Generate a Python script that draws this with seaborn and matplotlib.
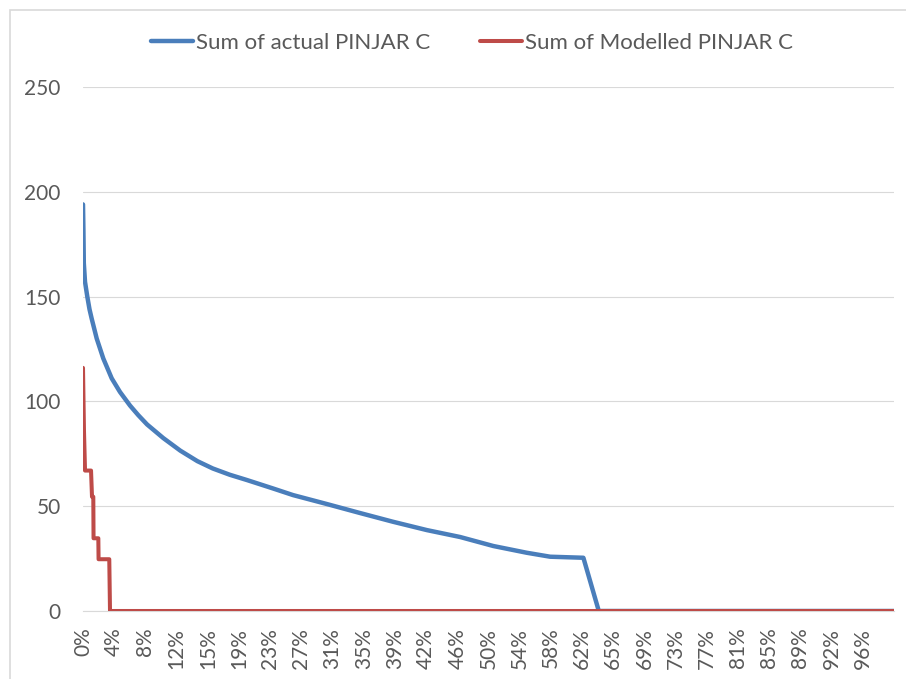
import numpy as np
import pandas as pd
import matplotlib
matplotlib.use("Agg")
import matplotlib.pyplot as plt
from matplotlib.patches import Rectangle
import seaborn as sns

# duration curve breakpoints: x = share of time (%), y = value
actual_pct = [0.0, 0.05, 0.1, 0.25, 0.53, 0.8, 1.07, 1.69, 2.5, 3.54, 4.56, 5.8, 6.8, 7.9,
              9.9, 12.0, 14.1, 16.0, 18.1, 20.2, 23.4, 25.9, 30.1, 34.2, 38.2, 42.4,
              46.5, 50.6, 54.7, 57.6, 61.7, 63.6, 100.0]
actual_val = [194, 182, 166, 157, 150, 144, 139.5, 130, 120.5, 111, 104.5, 98, 93.5, 89,
              82.5, 76.5, 71.5, 68, 65, 62.5, 58.5, 55.3, 51, 46.7, 42.6, 38.6,
              35.3, 31, 27.8, 25.9, 25.4, 0, 0]

modelled_pct = [0.0, 0.12, 0.25, 0.99, 1.11, 1.27, 1.3, 1.89, 1.92, 3.24, 3.33, 100.0]
modelled_val = [116, 86, 67, 67, 54.5, 54.5, 34.7, 34.7, 24.7, 24.7, 0, 0]

tick_labels = ["0%", "4%", "8%", "12%", "15%", "19%", "23%", "27%", "31%", "35%", "39%",
               "42%", "46%", "50%", "54%", "58%", "62%", "65%", "69%", "73%", "77%",
               "81%", "85%", "89%", "92%", "96%"]
y_ticks = [0, 50, 100, 150, 200, 250]

BLUE = "#4A7EBB"
RED = "#BE4B48"
GREY_TXT = "#595959"

sns.set_style("white")
plt.rcParams["font.family"] = ["Lato", "DejaVu Sans"]

fig = plt.figure(figsize=(9.06, 6.79), dpi=100)
ax = fig.add_axes([83 / 906, 68 / 679, 811 / 906, 524 / 679])

df_a = pd.DataFrame({"pct": actual_pct, "val": actual_val})
df_m = pd.DataFrame({"pct": modelled_pct, "val": modelled_val})

sns.lineplot(data=df_a, x="pct", y="val", ax=ax, color=BLUE, lw=3.2, sort=False,
             estimator=None, label="Sum of actual PINJAR C", zorder=3)
sns.lineplot(data=df_m, x="pct", y="val", ax=ax, color=RED, lw=2.9, sort=False,
             estimator=None, label="Sum of Modelled PINJAR C", zorder=4)

ax.set_xlim(0, 100)
ax.set_ylim(0, 250)
ax.set_xticks([k * 100 / 26 for k in range(len(tick_labels))])
ax.set_xticklabels(tick_labels, rotation=90)
ax.set_yticks(y_ticks)
ax.tick_params(axis="x", length=0, pad=12, labelsize=15, labelcolor=GREY_TXT)
ax.tick_params(axis="y", length=0, pad=16, labelsize=15, labelcolor=GREY_TXT)
ax.set_xlabel("")
ax.set_ylabel("")

ax.grid(axis="y", color="#D9D9D9", lw=0.8)
ax.grid(axis="x", visible=False)
for side in ["left", "right", "top"]:
    ax.spines[side].set_visible(False)
ax.spines["bottom"].set_color("#D9D9D9")
ax.spines["bottom"].set_linewidth(0.8)

handles, labels = ax.get_legend_handles_labels()
ax.legend(handles, labels, loc="center", bbox_to_anchor=(472 / 906, 1 - 42.7 / 679),
          bbox_transform=fig.transFigure, ncol=2, frameon=False, fontsize=16,
          labelcolor=GREY_TXT, handlelength=1.9, handletextpad=0.15, columnspacing=2.2)

# light chart-area border (left and top edges visible in the crop)
fig.add_artist(Rectangle((10 / 906, -0.1), 1.2, (669 / 679) + 0.1, transform=fig.transFigure,
                         fill=False, edgecolor="#D9D9D9", lw=1.2))

fig.savefig("out.png", dpi=100)
